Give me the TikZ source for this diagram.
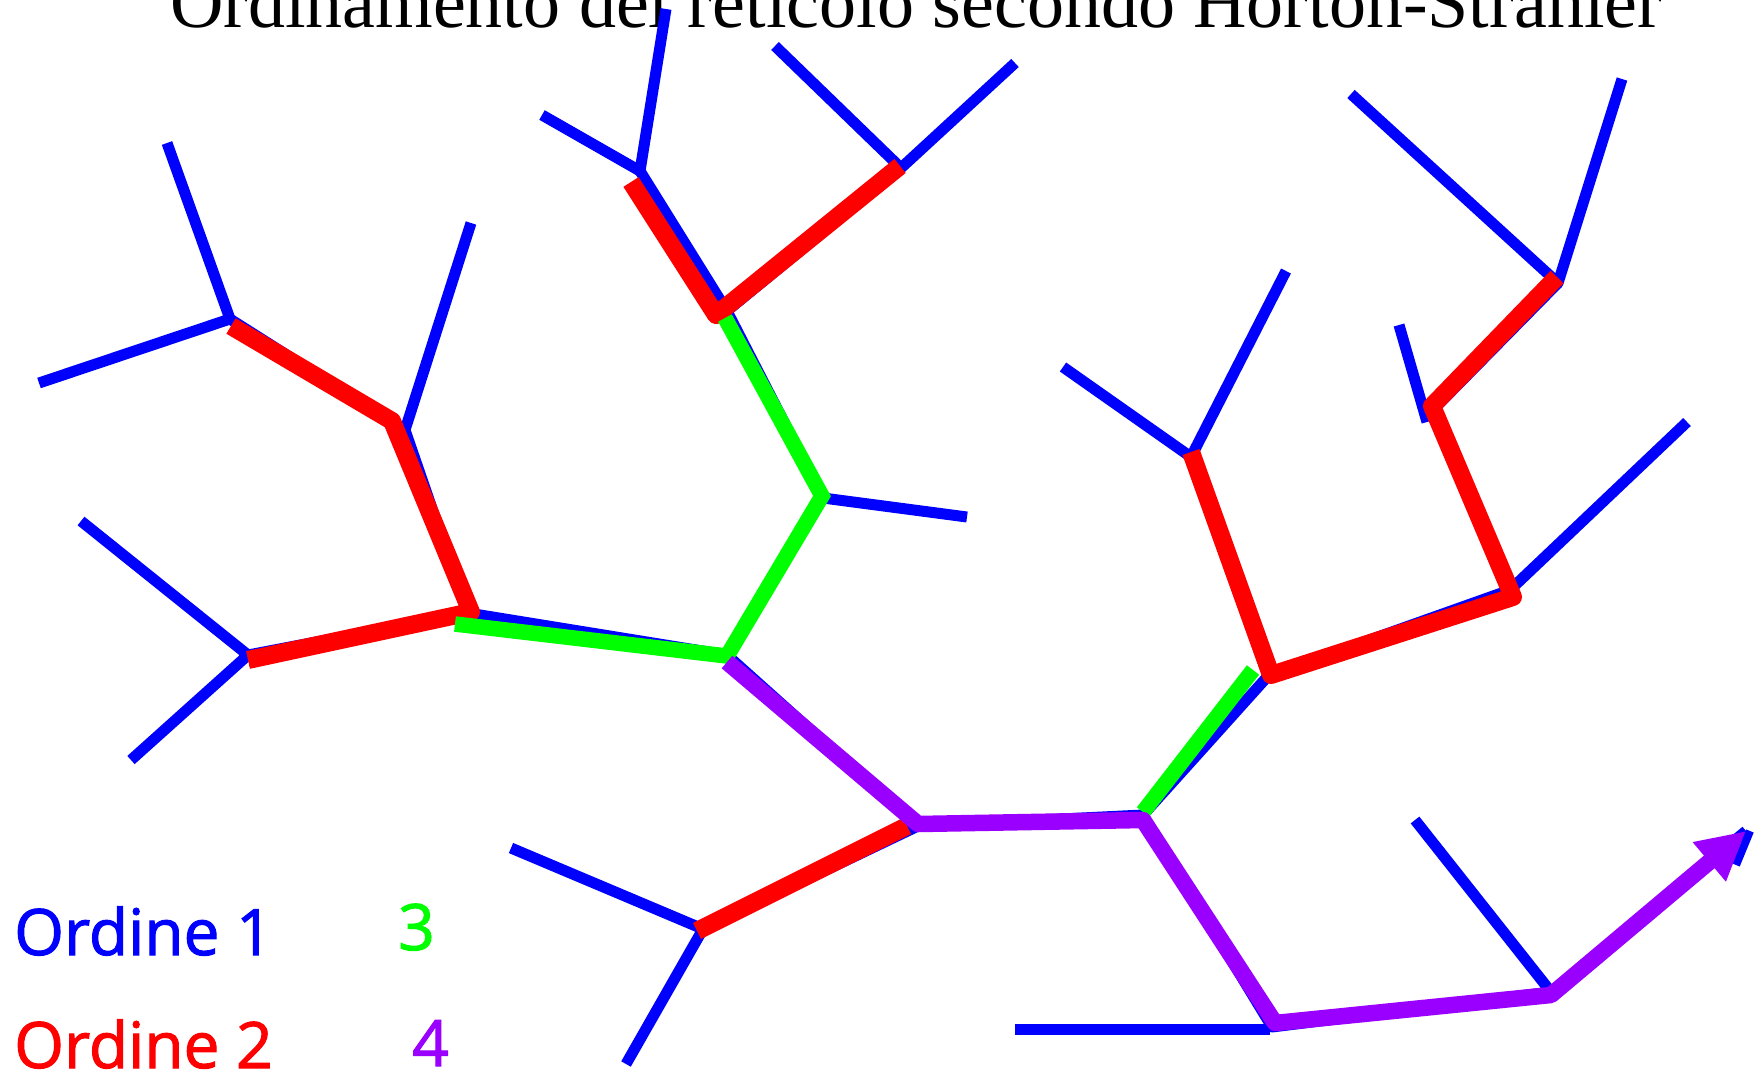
\documentclass[tikz,border=0pt]{standalone}
\usepackage{fontspec}
\setmainfont{Liberation Serif}
\newfontfamily\legendfont{Open Sans}[FakeBold=1.6]
\usetikzlibrary{arrows.meta}
\definecolor{ordone}{RGB}{0,0,255}
\definecolor{ordtwo}{RGB}{255,0,0}
\definecolor{ordthree}{RGB}{0,255,0}
\definecolor{ordfour}{RGB}{153,0,255}
\begin{document}
\begin{tikzpicture}[x=1pt,y=-1pt,
  lone/.style={draw=ordone,line width=11pt,line join=round},
  ltwo/.style={draw=ordtwo,line width=18pt,line join=round},
  lthree/.style={draw=ordthree,line width=15.5pt,line join=round},
  lfour/.style={draw=ordfour,line width=16.5pt,line join=round},
  legend/.style={font=\legendfont\fontsize{64}{70}\selectfont,inner sep=0pt,anchor=base west},
  titlestyle/.style={font=\fontsize{74}{80}\selectfont,inner sep=0pt,anchor=base}]
\useasboundingbox (0,0) rectangle (1764,1077);
% title
\node[titlestyle] (title) at (916,27) {Ordinamento del reticolo secondo Horton-Strahler};
% blue network junctions
\coordinate (A) at (230,319);
\coordinate (B) at (405,430);
\coordinate (C) at (468,613);
\coordinate (D) at (248,655);
\coordinate (E) at (727,655);
\coordinate (F) at (640,171);
\coordinate (G) at (901,168);
\coordinate (H) at (727,311);
\coordinate (I) at (823,498);
\coordinate (Q) at (918,826);
\coordinate (J) at (703,929);
\coordinate (K) at (1143,815);
\coordinate (L) at (1268,676);
\coordinate (M) at (1191,457);
\coordinate (N) at (1510,590);
\coordinate (O) at (1433,410);
\coordinate (P) at (1558,283);
\coordinate (R) at (1272,1027);
\coordinate (S) at (1551,992);
\coordinate (T) at (1746,831);
% leaves
\coordinate (a1) at (167,143);
\coordinate (a2) at (39,383);
\coordinate (b1) at (471,223);
\coordinate (d1) at (81,521);
\coordinate (d2) at (131,760);
\coordinate (f1) at (542,115);
\coordinate (f2) at (666,9);
\coordinate (g1) at (775,46);
\coordinate (g2) at (1015,63);
\coordinate (i1) at (967,517);
\coordinate (j1) at (511,848);
\coordinate (j2) at (626,1064);
\coordinate (m1) at (1063,367);
\coordinate (m2) at (1286,271);
\coordinate (n1) at (1687,422);
\coordinate (o1) at (1399,325);
\coordinate (o2) at (1427,422);
\coordinate (p1) at (1351,94);
\coordinate (p2) at (1622,79);
\coordinate (r1) at (1015,1029);
\coordinate (r2) at (1270,1029);
\coordinate (s1) at (1415,820);
\coordinate (t1) at (1750,831);
\coordinate (t2) at (1736,865);
% order 1 (blue)
\draw[lone] (a1) -- (A) -- (a2);
\draw[lone] (A) -- (B) -- (C) -- (D);
\draw[lone] (b1) -- (B);
\draw[lone] (d1) -- (D) -- (d2);
\draw[lone] (C) -- (E) -- (I) -- (H) -- (F);
\draw[lone] (H) -- (G);
\draw[lone] (f1) -- (F) -- (f2);
\draw[lone] (g1) -- (G) -- (g2);
\draw[lone] (I) -- (i1);
\draw[lone] (E) -- (Q) -- (J);
\draw[lone] (j1) -- (J) -- (j2);
\draw[lone] (Q) -- (K) -- (L) -- (M);
\draw[lone] (m1) -- (M) -- (m2);
\draw[lone] (L) -- (N) -- (O) -- (P);
\draw[lone] (N) -- (n1);
\draw[lone] (o1) -- (o2);
\draw[lone] (p1) -- (P) -- (p2);
\draw[lone] (K) -- (R) -- (S) -- (T);
\draw[lone] (r1) -- (r2);
\draw[lone] (s1) -- (S);
\draw[lone,line width=8pt] (t1) -- (t2);
% order 2 (red)
\coordinate (ra) at (231,326);
\coordinate (rb) at (392,421);
\coordinate (rc) at (471,612);
\coordinate (rd) at (248,660);
\draw[ltwo] (ra) -- (rb) -- (rc) -- (rd);
\coordinate (rf) at (631,182);
\coordinate (rh) at (716,315);
\coordinate (rg) at (900,166);
\draw[ltwo] (rf) -- (rh) -- (rg);
\coordinate (rj) at (697,931);
\coordinate (rq) at (907,826);
\draw[ltwo] (rj) -- (rq);
\coordinate (rm) at (1191,452);
\coordinate (rl) at (1271,675);
\coordinate (rn) at (1513,597);
\coordinate (ro) at (1432,406);
\coordinate (rp) at (1557,277);
\draw[ltwo] (rm) -- (rl) -- (rn) -- (ro) -- (rp);
% order 3 (green)
\coordinate (gc) at (455,624);
\coordinate (ge) at (727,656);
\coordinate (gi) at (822,496);
\coordinate (gh) at (725,318);
\draw[lthree,line join=miter] (gc) -- (ge) -- (gi) -- (gh);
\coordinate (gk) at (1143,812);
\coordinate (gl) at (1253,670);
\draw[lthree] (gk) -- (gl);
% order 4 (purple)
\coordinate (ue) at (727,662);
\coordinate (uq) at (918,824);
\coordinate (uk) at (1143,820);
\coordinate (ur) at (1275,1023);
\coordinate (us) at (1551,995);
\draw[lfour,-{Triangle[length=48pt,width=48pt]}] (ue) -- (uq) -- (uk) -- (ur) -- (us) -- (T);
% legend
\node[legend,text=ordone] (l1) at (14,955) {Ordine 1};
\node[legend,text=ordthree] (l3) at (398,950) {3};
\node[legend,text=ordtwo] (l2) at (14,1068) {Ordine 2};
\node[legend,text=ordfour] (l4) at (412,1066) {4};
\end{tikzpicture}
\end{document}
